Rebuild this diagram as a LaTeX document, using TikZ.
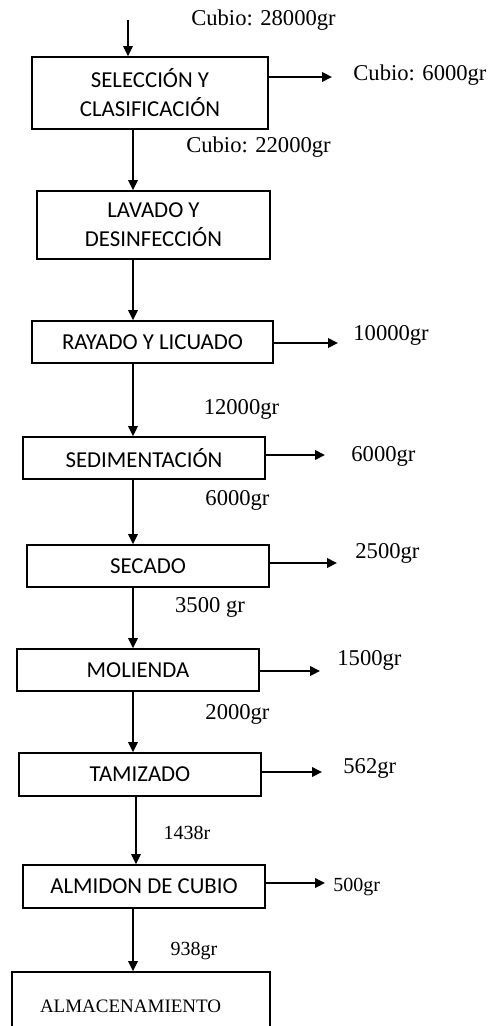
\documentclass[tikz,border=0pt]{standalone}
\usepackage{fontspec}
\setmainfont{Liberation Serif}
\newfontfamily\calibri{Carlito}
\usetikzlibrary{arrows.meta,positioning}

\begin{document}
\begin{tikzpicture}[x=0.5pt,y=-0.5pt,>={Triangle[length=5pt,width=4.8pt]},
  etapa/.style={draw,line width=0.9pt,minimum height=21pt,inner sep=0pt,align=center,
    font=\calibri\fontsize{11.4}{14.5}\selectfont},
  flujo/.style={->,line width=0.8pt},
  peso/.style={inner sep=0pt,font=\fontsize{11.3}{13}\selectfont},
  pesoc/.style={inner sep=0pt,font=\fontsize{10}{12}\selectfont}]
  \clip (0,0) rectangle (487,1026);
  % etapas del proceso
  \node[etapa,minimum width=118pt,minimum height=36pt] (sel) at (150,93) {SELECCIÓN Y\\CLASIFICACIÓN};
  \node[etapa,minimum width=116.5pt,minimum height=34pt] (lav) at (153.5,225) {LAVADO Y\\DESINFECCIÓN};
  \node[etapa,minimum width=120.5pt] (ray) at (152.5,342) {RAYADO Y LICUADO};
  \node[etapa,minimum width=121pt] (sed) at (144,458) {SEDIMENTACIÓN};
  \node[etapa,minimum width=121pt] (sec) at (148,566) {SECADO};
  \node[etapa,minimum width=121pt] (mol) at (138,670) {MOLIENDA};
  \node[etapa,minimum width=121pt,minimum height=21.5pt] (tam) at (140,774.5) {TAMIZADO};
  \node[etapa,minimum width=121pt,minimum height=21.5pt] (alm) at (144,886.5) {ALMIDON DE CUBIO};
  \node[draw,line width=0.9pt,minimum height=34pt,text width=101pt,inner xsep=14pt,inner ysep=0pt,
    align=left,font=\fontsize{9.5}{11}\selectfont] (alma) at (141,1006) {ALMACENAMIENTO};
  % flujo principal
  \coordinate (ent) at (128,20);
  \coordinate (eje) at (133,0);
  \coordinate (eje2) at (136,0);
  \draw[flujo] (ent) -- (sel.north -| ent);
  \draw[flujo] (sel.south -| eje) -- (lav.north -| eje);
  \draw[flujo] (lav.south -| eje) -- (ray.north -| eje);
  \draw[flujo] (ray.south -| eje) -- (sed.north -| eje);
  \draw[flujo] (sed.south -| eje) -- (sec.north -| eje);
  \draw[flujo] (sec.south -| eje) -- (mol.north -| eje);
  \draw[flujo] (mol.south -| eje) -- (tam.north -| eje);
  \draw[flujo] (tam.south -| eje2) -- (alm.north -| eje2);
  \draw[flujo] (alm.south -| eje) -- (alma.north -| eje);
  \node[peso] (p0) at (263.5,20) {Cubio: 28000gr};
  \node[peso] (p1) at (258.5,147) {Cubio: 22000gr};
  \node[peso] (p3) at (241.5,409) {12000gr};
  \node[peso] (p4) at (237.5,500) {6000gr};
  \node[peso] (p5) at (210,607) {3500 gr};
  \node[peso] (p6) at (237.5,714) {2000gr};
  \node[pesoc] (p7) at (187,833) {1438r};
  \node[pesoc] (p8) at (194,951) {938gr};
  % salidas laterales
  \coordinate (o1) at (332,77);
  \coordinate (o3) at (338,343);
  \coordinate (o4) at (325,455);
  \coordinate (o5) at (337,563);
  \coordinate (o6) at (320,671);
  \coordinate (o7) at (322,772);
  \coordinate (o8) at (325,883);
  \draw[flujo] (sel.east |- o1) -- (o1);
  \draw[flujo] (ray.east |- o3) -- (o3);
  \draw[flujo] (sed.east |- o4) -- (o4);
  \draw[flujo] (sec.east |- o5) -- (o5);
  \draw[flujo] (mol.east |- o6) -- (o6);
  \draw[flujo] (tam.east |- o7) -- (o7);
  \draw[flujo] (alm.east |- o8) -- (o8);
  \node[peso,anchor=west] (s1) at (353,75) {Cubio: 6000gr};
  \node[peso,anchor=west] (s3) at (353,335) {10000gr};
  \node[peso,anchor=west] (s4) at (351,456) {6000gr};
  \node[peso,anchor=west] (s5) at (355,553) {2500gr};
  \node[peso,anchor=west] (s6) at (337,660) {1500gr};
  \node[peso,anchor=west] (s7) at (343,768) {562gr};
  \node[pesoc,anchor=west] (s8) at (333,887) {500gr};
\end{tikzpicture}
\end{document}
